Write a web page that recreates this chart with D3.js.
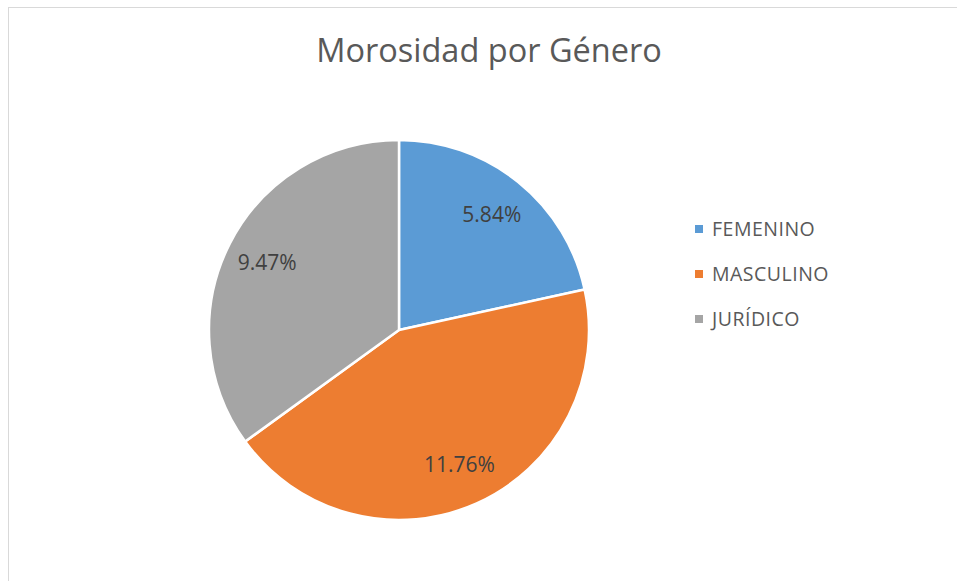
<!DOCTYPE html>
<meta charset="utf-8">
<style>
    body { margin: 0; background: #fff; }
    text { font-family: "Open Sans", sans-serif; }
</style>
<body>
<script src="https://d3js.org/d3.v7.min.js"></script>
<script>
    var categorias = ["FEMENINO", "MASCULINO", "JURÍDICO"];
    var valores = [5.84, 11.76, 9.47];
    var etiquetas = ["5.84%", "11.76%", "9.47%"];
    var colores = ["#5B9BD5", "#ED7D31", "#A5A5A5"];

    var width = 957, height = 581;
    var svg = d3.select("body").append("svg")
        .attr("width", width)
        .attr("height", height);

    // borde del area del grafico (sale de la ventana a la derecha y abajo)
    svg.append("rect")
        .attr("x", 8.5).attr("y", 7.5)
        .attr("width", 1000).attr("height", 1000)
        .attr("fill", "#fff")
        .attr("stroke", "#d9d9d9")
        .attr("stroke-width", 1);

    svg.append("text")
        .attr("x", 489).attr("y", 62)
        .attr("text-anchor", "middle")
        .style("font-size", "32.5px")
        .style("fill", "#595959")
        .text("Morosidad por Género");

    var cx = 399, cy = 330, r = 190;
    var color = d3.scaleOrdinal().domain(categorias).range(colores);

    var pie = d3.pie().sort(null).value(function(d) { return d.valor; });
    var datos = categorias.map(function(c, i) {
        return { cat: c, valor: valores[i], label: etiquetas[i] };
    });

    var arc = d3.arc().innerRadius(0).outerRadius(r);
    var labelArc = d3.arc().innerRadius(148).outerRadius(148);

    var g = svg.append("g").attr("transform", "translate(" + cx + "," + cy + ")");

    var slices = g.selectAll(".slice")
        .data(pie(datos))
        .enter().append("g")
        .attr("class", "slice");

    slices.append("path")
        .attr("d", arc)
        .attr("fill", function(d) { return color(d.data.cat); })
        .attr("stroke", "#fff")
        .attr("stroke-width", 2.5)
        .attr("stroke-linejoin", "round");

    slices.append("text")
        .attr("transform", function(d) {
            var c = labelArc.centroid(d);
            return "translate(" + c[0] + "," + c[1] + ")";
        })
        .attr("text-anchor", "middle")
        .attr("dy", "0.35em")
        .style("font-size", "21px")
        .style("fill", "#404040")
        .text(function(d) { return d.data.label; });

    var legend = svg.selectAll(".legend")
        .data(categorias)
        .enter().append("g")
        .attr("class", "legend")
        .attr("transform", function(d, i) { return "translate(695," + (229 + i * 45) + ")"; });

    legend.append("rect")
        .attr("x", 0).attr("y", -4)
        .attr("width", 8).attr("height", 8)
        .attr("fill", function(d) { return color(d); });

    legend.append("text")
        .attr("x", 17).attr("dy", "0.35em")
        .style("font-size", "19.5px")
        .style("letter-spacing", "0.5px")
        .style("fill", "#595959")
        .text(function(d) { return d; });
</script>
</body>
